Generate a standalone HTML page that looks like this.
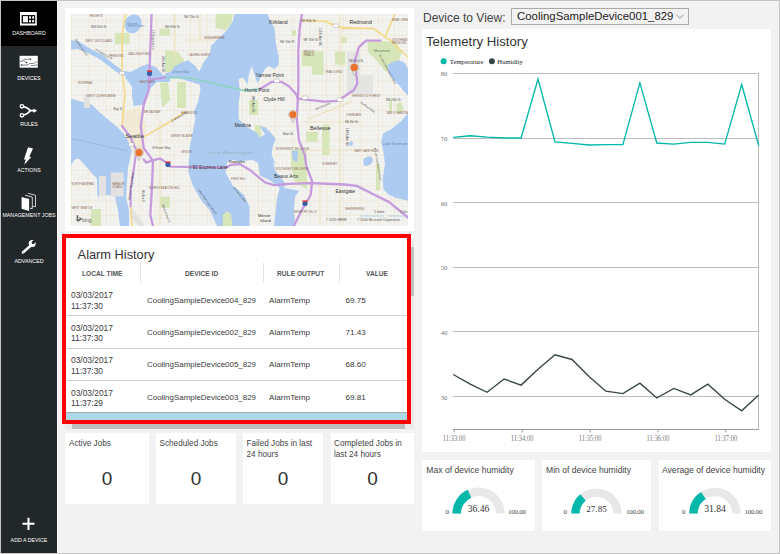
<!DOCTYPE html>
<html><head><meta charset="utf-8">
<style>
*{margin:0;padding:0;box-sizing:border-box}
html,body{width:780px;height:554px;overflow:hidden;background:#f2f2f2;font-family:"Liberation Sans",sans-serif;color:#333}
.a{position:absolute}
#frame{position:absolute;left:0;top:0;width:780px;height:554px;border:1px solid #c4c4c4;pointer-events:none;z-index:50}
#side{left:1px;top:1px;width:56px;height:552px;background:#22272a}
#dash{left:1px;top:1px;width:56px;height:45px;background:#000}
.lbl{color:#fff;font-size:5.3px;text-align:center;width:56px;left:1px;white-space:nowrap;line-height:6px}
.panel{background:#fff}
.t{white-space:nowrap}
.hd{font-size:8px;font-weight:bold;color:#555;line-height:8px;transform:scaleX(0.83);transform-origin:0 0}
.td{font-size:8.1px;color:#3a3a3a;line-height:10.4px}
.jt{font-size:8.2px;color:#444;line-height:11px}
.jz{top:468px;font-size:19px;color:#333;text-align:center;line-height:22px}
</style></head><body>
<div id="frame"></div>
<div class="a" id="side"></div>
<div class="a" id="dash"></div>
<div class="a" style="left:57px;top:1px;width:1px;height:552px;background:#fafafa"></div>

<svg class="a" style="left:0;top:0" width="58" height="554" viewBox="0 0 58 554">
<!-- dashboard -->
<rect x="20" y="12" width="16.8" height="13.5" fill="#fff"/>
<rect x="21.6" y="15.1" width="13.6" height="8.4" fill="#000"/>
<rect x="22.9" y="16.1" width="5" height="6.2" fill="#fff"/>
<rect x="29.1" y="16.3" width="1.9" height="2.4" fill="#fff"/>
<rect x="32.2" y="16.3" width="1.9" height="2.4" fill="#fff"/>
<rect x="29.1" y="19.9" width="1.9" height="2.4" fill="#fff"/>
<rect x="32.2" y="19.9" width="1.9" height="2.4" fill="#fff"/>
<!-- devices -->
<rect x="19.6" y="55.8" width="18.2" height="11.9" fill="#fff"/>
<path d="M20 61.2 H23 L24.2 59.2 H30.5 M23.5 60.2 L26 62.5 H27 M21.5 65 H28 L29.5 63.5 H34 L35.5 62 H37.5 M31 65.5 H34 L35.5 65 H37.5" fill="none" stroke="#777" stroke-width="0.9"/>
<circle cx="30.6" cy="59.2" r="0.8" fill="#333"/><circle cx="26.5" cy="62.5" r="0.8" fill="#333"/><circle cx="21.5" cy="65" r="0.8" fill="#333"/>
<!-- rules -->
<circle cx="21.9" cy="106.3" r="1.7" fill="none" stroke="#fff" stroke-width="1.3"/>
<circle cx="21.9" cy="115.3" r="1.7" fill="none" stroke="#fff" stroke-width="1.3"/>
<path d="M23.6 106.6 C27 107 29 109 30.5 110.6 M23.6 115 C27 114.6 29 112.4 30.5 110.6 L34 110.6" fill="none" stroke="#fff" stroke-width="1.6"/>
<path d="M33.4 108.6 L37.2 110.7 L33.4 112.8 Z" fill="#fff"/>
<!-- actions -->
<path d="M28.0 147.2 L33.0 148.5 L29.4 156.5 L31.1 157.2 L24.2 164.8 L25.8 159.5 L23.9 159.4 Z" fill="#fff"/>
<!-- management jobs -->
<path d="M28.1 193.4 L35.5 195.2 V206.8 L32.8 206.2" fill="none" stroke="#ddd" stroke-width="0.9"/>
<path d="M25.1 195.2 L32.3 197.1 V208.7 L29.6 208.1" fill="none" stroke="#e8e8e8" stroke-width="0.9"/>
<path d="M21.6 196.9 L29.1 199 V211 L21.6 208.7 Z" fill="#fff"/>
<!-- advanced -->
<path d="M22.9 252.5 L30.9 245.5" stroke="#fff" stroke-width="2.5" stroke-linecap="round"/>
<circle cx="32.2" cy="243.5" r="3.5" fill="#fff"/>
<circle cx="33" cy="242.7" r="1.4" fill="#22272a"/>
<path d="M32.0 241.7 L34.0 243.7 L37 240.7 L35 238.7 Z" fill="#22272a"/>
<circle cx="23.3" cy="252.2" r="0.45" fill="#22272a"/>
<!-- add -->
<path d="M28.5 517.7 V530 M22.5 523.8 H34.5" stroke="#fff" stroke-width="2"/>
</svg>
<!-- sidebar labels -->
<div class="a lbl m" style="top:30px">DASHBOARD</div>
<div class="a lbl m" style="top:75px">DEVICES</div>
<div class="a lbl m" style="top:121px">RULES</div>
<div class="a lbl m" style="top:167px">ACTIONS</div>
<div class="a lbl m" style="top:212px">MANAGEMENT JOBS</div>
<div class="a lbl m" style="top:258px">ADVANCED</div>
<div class="a lbl m" style="top:537px">ADD A DEVICE</div>

<!-- map panel -->
<div class="a panel" style="left:65px;top:8px;width:349px;height:223px"></div>
<div class="a" id="map" style="left:71px;top:14px;width:337px;height:212px;background:#f2efe9;overflow:hidden"><svg width="337" height="212" viewBox="71 14 337 212" style="display:block">
<defs>
<pattern id="grid" x="0" y="0" width="4" height="4" patternUnits="userSpaceOnUse">
<path d="M0 0.5 H4 M0.5 0 V4" stroke="#f7f7f4" stroke-width="0.5" fill="none"/>
</pattern>
<pattern id="grid2" x="3" y="5" width="17" height="15" patternUnits="userSpaceOnUse">
<path d="M0 0.5 H17 M0.5 0 V15" stroke="#efe6cd" stroke-width="0.5" fill="none"/>
</pattern>
</defs>
<rect x="71" y="14" width="337" height="212" fill="#f0efeb"/>
<rect x="71" y="14" width="337" height="212" fill="url(#grid)"/>
<rect x="71" y="14" width="337" height="212" fill="url(#grid2)"/>
<!-- parks -->
<g fill="#d6e6b8">
<path d="M114.8 32.8 H129.2 V44.3 H114.8 Z"/>
<path d="M159.6 28.5 H170 V35.7 H159.6 Z"/>
<path d="M165 50 L178 52 L184 60 L182 72 L165 72 Z"/>
<path d="M215.6 14 H233 L231 24 L226 30 L215.6 28 Z"/>
<path d="M160 83 L168 82 L170 100 L162 108 Z"/>
<path d="M301.9 51.6 H323.6 V74.7 H312 V66 H301.9 Z"/>
<path d="M335 51.6 H345.3 V64.6 H335 Z"/>
<path d="M291.8 30 H296 V35.7 H291.8 Z"/>
<path d="M341 37 H346.7 V43 H341 Z"/>
<path d="M396 104 L401 102 L404 110 L398 114 Z"/>
<path d="M389 100 H392 V112 H389 Z"/>
<path d="M367.5 41.4 L395 41 L402 52 L398 62 L390 65 L386 72 L378 62 L368 52 Z"/>
<path d="M306 131.9 H317.8 V142 H306 Z"/>
<path d="M322 124.7 H329.4 V155 H322 Z"/>
<path d="M291 150 H306.5 L307 189.4 L295 182 L291 165 Z"/>
<path d="M91 209 H101 V226 H91 Z"/>
<path d="M160 196.5 H170 V207.7 H160 Z"/>

<path d="M233 126 H240 V140 H233 Z"/>
<path d="M255 125 H261 V140 H255 Z"/>
<path d="M376 164 H380 V190 H376 Z"/>
<path d="M249 100 H258 V115 H249 Z"/>
<path d="M177 82 H186 V108 H177 Z"/>
</g>
<!-- water -->
<g fill="#adcaf0">
<!-- Green Lake -->
<ellipse cx="133" cy="23.8" rx="8.3" ry="9.6" transform="rotate(25 133 23.8)"/>
<!-- ship canal + salmon bay -->
<path d="M71 40 L78.7 41.5 L91.7 49.5 L103.2 55 L114.8 65 L123.5 71 L131 72 L131 76 L122 75.5 L113 69.5 L101 60 L90 54 L78 49 L71 49.4 Z"/>
<!-- Lake Union -->
<path d="M130.7 71.8 L142.3 66 L148 63.9 L156.7 67.5 L162.5 74.7 L170 77.6 L170 81.9 L156.7 81.9 L151 87.7 L146 96 L143.7 104.5 L133.6 105.9 L132 96 L132 86.3 L125 77.6 Z"/>
<!-- Puget Sound / Elliott Bay -->
<path d="M71 98.7 L91.7 104.5 L98.9 111.7 L107.6 118.9 L116.2 126.1 L123.5 133.4 L127.8 140.6 L130.7 147.8 L133 153.6 L132 150 L128 168 L126 197 L129 210 L129 226 L120 226 L118 210 L115 197 L110 195 L97.5 196.5 L96.8 178.2 L92.5 174 L84 164 L78.5 158.5 L74.2 159.9 L71 165.5 Z"/>
<!-- Lake Washington -->
<path d="M234.4 14 L267.2 14 L271.6 22.7 L274.5 28.5 L275.9 42.9 L278.8 57.4 L278.8 64.6 L274.5 68.9 L268.7 66 L265 68.9 L261.8 74.7 L257.5 83.4 L254.6 74.7 L251.7 66 L248.8 74.7 L247.4 84.8 L243 77.6 L238.7 79 L240.1 94 L238.7 101.6 L238.7 118.9 L245.9 126.1 L257.5 133.4 L258.9 137.7 L265 134.8 L260 126.1 L265.8 127.6 L271.6 133.4 L275.9 139.1 L273 144.9 L271.6 155 L275.9 165.1 L272.7 161.3 L274.1 150 L272.7 161.3 L275.5 171.1 L282.5 179.6 L285.4 183.8 L284 188 L292.4 189.4 L299.4 190.8 L295.2 196.5 L293.8 209.2 L295.2 226 L274.1 226 L275.5 213.4 L276.9 199.3 L279.7 188 L271.3 181 L260 175.4 L258 162.7 L252.3 159.9 L239.6 161.3 L231.2 159.9 L227 162.7 L225.6 172.5 L232.6 185.2 L243.9 195 L249.5 206.3 L249.5 226 L217.1 226 L210 210.6 L201.6 200.7 L193.2 186.6 L190.4 178.2 L188.2 171.1 L188.8 162.3 L189.6 147.8 L192.5 133.4 L195.3 118.9 L193.9 111.7 L198.2 101.6 L200.4 90 L199.7 84.8 L191 81.9 L176.6 77.6 L165 77.6 L165 73.2 L170.8 71.8 L175.1 66 L180.9 63.1 L188.1 60.2 L195.3 66 L199 71.8 L199.7 70.4 L204 61.7 L209.8 54.5 L211.2 45.8 L218.5 38.6 L227.1 29.9 L232.9 21.2 Z"/>
<!-- Meydenbauer left region water near Bellevue/Mercer already included; Lake Sammamish -->
<path d="M387.8 64.5 L393.5 61.7 L399.3 60.2 L405 63.1 L408 68.9 L408 95.4 L404 91.6 L399 85.3 L392.8 79 L389 72.6 Z"/>
<path d="M408 113 L401.6 120.7 L391.5 129 L383.4 133.3 L381.3 142 L383.4 152.1 L385 164.1 L382.8 178.2 L383.5 189.4 L389.2 195 L396.2 197.9 L408 200.7 Z"/>
<path d="M363.2 160 Q366 156 371 156.4 Q374 159 372 163 Q368 167 364 165.5 Z"/>
<path d="M292 151 L298 150.7 L297 162.3 L293 160 Z"/>
<ellipse cx="351.3" cy="143.4" rx="1.8" ry="2.2"/>
</g>
<path d="M223 226 L222.7 215 L227 211.5 L231 214 L232.6 226 Z" fill="#d6e6b8"/>
<!-- industrial / harbor island -->
<g fill="#e2e2e2">
<path d="M110.8 172.5 H123.5 V196.5 H110.8 Z"/>
<path d="M99 176 H106 V196 H99 Z"/>
<path d="M84 94 H90 V108 H84 Z"/>
<path d="M130 205 L145 226 H138 L130 215 Z"/>
<path d="M347 52 H360 V75 H373 V94 H347 Z" fill="#e4e4e2"/>
</g>
<path d="M120 112 L140 108 L146 125 L144 150 L133 152 L126 135 Z" fill="#f2e3b8" opacity="0.45"/>
<path d="M71.5 138.5 L127 151" stroke="#86a9d6" stroke-width="0.5" fill="none"/>
<!-- yellow roads -->
<g fill="none" stroke="#f4d98a" stroke-width="1.6" stroke-linecap="round">
<path d="M125.6 14 L122 35.7 L122 71.8 L125 94 L122 126"/><path d="M130.6 206.3 L132 226"/>
<path d="M300.5 20.5 L325 21.2 L339.5 27 L360 28.5"/>
<path d="M330 24.1 L343 28.4 L373.3 28.4 L384.9 37.1 L395 14"/>
<path d="M384.9 37.1 L390.6 40 L408 57.3"/>
<path d="M142.3 137.7 L170 121.8 L185 112"/>

<path stroke="#ecdfb8" d="M307.7 118.9 L340.9 105.9 L352 101" stroke-width="1.1"/>
<path stroke="#ecdfb8" d="M303 121.8 L360 121.8" stroke-width="0.8"/>
<path stroke="#ecdfb8" d="M175 14 L175 60" stroke-width="1"/>
<path stroke="#ecdfb8" d="M200 14 L200 40" stroke-width="1"/>
<path stroke="#ecdfb8" d="M160 120 L160 226" stroke-width="1"/>
<path stroke="#ecdfb8" d="M340 14 L340 226" stroke-width="0.9"/>
<path stroke="#ecdfb8" d="M320 183 L320 226" stroke-width="0.9"/>

<path stroke="#ecdfb8" d="M186 40 L215 40" stroke-width="0.9"/>
<path stroke="#ecdfb8" d="M300 150 L380 150" stroke-width="0.9"/>

</g>
<!-- 520 bridge teal -->
<path d="M165 77.6 L186.7 77.6 L201.1 80.5 L244.5 90.6 L260 89" fill="none" stroke="#8fd4c0" stroke-width="1.6"/>
<!-- purple highways -->
<g fill="none" stroke="#c59bde" stroke-width="2.3" stroke-linejoin="round" stroke-linecap="round">
<!-- I-5 -->
<path d="M151.6 14 L149.5 71.8 L148.8 90 L143.7 104.5 L140.8 126.1 L143.7 147.8 L150.9 157.9 L153 161.3 L151.7 192.3 L150.3 214.8 L153 226"/>
<!-- Viaduct -->
<path d="M122 126 L130.7 137.7 L136.5 150.7 L133.6 170 L130.6 189.4 L130.6 206.3" stroke-width="2.2"/>
<!-- I-90 -->
<path d="M143.7 159.4 L146 162.7 L154.5 159.9 L160 158.5 L168.6 164 L170 166.6 L225.6 167.6 L231.2 164.8 L239.6 164 L249.5 169.7 L265 182.4 L274.1 185.2 L288.2 183.8 L312.1 183.1 L344.5 184.5 L356.8 185.9 L372.3 193.7 L389.2 202.1 L408 217.6"/>
<!-- SR520 west stub -->
<path d="M148.8 80 L165 77.6" stroke-width="2"/>
<!-- SR520 east -->
<path d="M260 89.1 L271.6 81.9 L281.7 81.9 L288.9 86.3 L296.1 94 L297.6 98.7 L310.6 100.1 L325 101.6 L338 100.8 L345.3 95.8 L353.9 90 L357.4 83.3 L356 71.8 L354.5 61.7 L358.9 47.2 L366.1 40.7 L380.5 40.7"/>
<!-- I-405 -->
<path d="M301.9 14 L299.7 28.5 L298.3 50.1 L298.3 90 L296.8 118.9 L299 140.6 L304.8 155 L306.5 166.9 L312.1 181 L310.7 195 L302.3 209.2 L293.8 226"/>
</g>
<!-- shields -->
<g>
<circle cx="149.5" cy="73.5" r="2.6" fill="#3d5fa8"/><rect x="147" y="70.4" width="5" height="1.5" fill="#d33"/>
<circle cx="168" cy="164.5" r="2.6" fill="#3d5fa8"/><rect x="165.5" y="161.4" width="5" height="1.5" fill="#d33"/>
<circle cx="305" cy="203.5" r="2.6" fill="#3d5fa8"/><rect x="302.5" y="200.4" width="5" height="1.5" fill="#d33"/>
<rect x="128.5" y="142.7" width="5.5" height="3.5" rx="1.5" fill="#fff" stroke="#999" stroke-width="0.4"/>
<rect x="119.2" y="71.3" width="5.5" height="3.5" rx="1.5" fill="#fff" stroke="#999" stroke-width="0.4"/>
<rect x="274" y="79" width="5.5" height="3.5" rx="1" fill="#fff" stroke="#999" stroke-width="0.4"/>
<rect x="302" y="96" width="5.5" height="3.5" rx="1" fill="#fff" stroke="#999" stroke-width="0.4"/>
<rect x="337" y="98" width="5.5" height="3.5" rx="1" fill="#fff" stroke="#999" stroke-width="0.4"/>
<rect x="333" y="24" width="5.5" height="3.5" rx="1" fill="#fff" stroke="#999" stroke-width="0.4"/>
</g>
<!-- labels -->
<g font-family="Liberation Sans" fill="#444">
<text x="127.8" y="26.5" font-size="3.2" fill="#6a8ab0">Green Lake</text>
<text x="139.4" y="82.6" font-size="3" fill="#8a6a5a">EASTLAKE</text>
<text x="78" y="84" font-size="3" fill="#8a6a5a">INTERBAY</text>
<text x="165" y="27.7" font-size="3" fill="#555">NE 65th St</text>
<text x="184" y="17.5" font-size="3" fill="#555">NE 75th St</text>
<text x="301" y="22" font-size="3" fill="#555">NE 85th St</text>
<text x="280" y="42.9" font-size="3" fill="#555">NE 70th Pl</text>
<text x="303.4" y="40.7" font-size="3" fill="#555">NE 70th St</text>
<text x="303.4" y="52.5" font-size="3" fill="#8a6a5a">BRIDLE</text>
<text x="303.4" y="55.8" font-size="3" fill="#8a6a5a">TRAILS</text>
<text x="325" y="72.5" font-size="3" fill="#8a6a5a">TRAILS END</text>
<text x="283" y="134.8" font-size="3" fill="#555">Main St</text>
<text x="276" y="150" font-size="2.8" fill="#8a6a5a">NORTHWEST BELLEVUE</text>
<text x="345" y="122.5" font-size="3" fill="#555">NE 8th St</text>
<text x="386" y="100.8" font-size="3" fill="#555">NE 24th St</text>
<text x="351.7" y="97.2" font-size="2.8" fill="#8a6a5a">SHERWOOD FOREST</text>
<text x="346" y="116" font-size="2.8" fill="#8a6a5a">OVERLAKE</text>
<text x="354.5" y="152" font-size="2.8" fill="#8a6a5a">EAST LAKE HILLS</text>
<text x="386.3" y="113.8" font-size="2.8" fill="#8a6a5a">TAM O SHANTER</text>
<text x="392" y="21.2" font-size="2.8" fill="#8a6a5a">BEAR CREEK</text>
<text x="392" y="41" font-size="2.8" fill="#8a6a5a">SOUTHEAST</text>
<text x="392" y="44.3" font-size="2.8" fill="#8a6a5a">REDMOND</text>
<text x="348.8" y="62.4" font-size="3" fill="#555">NE 51st St</text>
<text x="181" y="113.8" font-size="3" fill="#8a6a5a">HARRISON</text>
<text x="181" y="152.9" font-size="3" fill="#8a6a5a">LESCHI</text>
<text x="113.4" y="110.2" font-size="3" fill="#555">Bay St</text>
<text x="152.4" y="149.2" font-size="3" fill="#555">E Fester Way</text>
<text x="71.4" y="184.5" font-size="2.8" fill="#8a6a5a">NORTH ADMIRAL</text>
<text x="112.3" y="184.5" font-size="2.8" fill="#8a6a5a">HARBOR</text>
<text x="112.3" y="187.5" font-size="2.8" fill="#8a6a5a">ISLAND</text>
<text x="71.4" y="209" font-size="2.8" fill="#8a6a5a">WEST SEATTLE</text>
<text x="231.2" y="180" font-size="2.8" fill="#8a6a5a">FIRST HILL</text>
<text x="275.5" y="170.4" font-size="2.8" fill="#8a6a5a">SOUTHWEST BELLEVUE</text>
<text x="322" y="165" font-size="2.8" fill="#8a6a5a">SOMERSET</text>
<text x="293.8" y="212.7" font-size="2.8" fill="#8a6a5a">NEWPORT HILLS</text>
<text x="162" y="56" font-size="3" fill="#555" transform="rotate(90 162 56)">35th Ave NE</text>
<text x="152" y="30" font-size="3" fill="#555" transform="rotate(90 152 30)">I-5 Express Ln</text>
<text x="319" y="28" font-size="3" fill="#555" transform="rotate(90 319 28)">116th Ave NE</text>
<text x="346" y="128" font-size="3" fill="#555" transform="rotate(90 346 128)">148th Ave NE</text>
<text x="251.5" y="96" font-size="3" fill="#555" transform="rotate(90 251.5 96)">84th Ave NE</text>
<text x="130.2" y="200" font-size="3" fill="#444" transform="rotate(-82 130.2 200)">Alaskan Way Viaduct</text>
<text x="142" y="190" font-size="2.8" fill="#555" transform="rotate(90 142 190)">4th Ave S</text>
<text x="162" y="205" font-size="3" fill="#555" transform="rotate(70 162 205)">Beacon Ave S</text>
<text x="198" y="190" font-size="2.8" fill="#555" transform="rotate(55 198 190)">Lake Washington Blvd S</text>
<text x="233" y="188" font-size="2.8" fill="#555" transform="rotate(50 233 188)">W Mercer Way</text>
<text x="379" y="55" font-size="2.8" fill="#555" transform="rotate(62 379 55)">W Lake Sammamish Pkwy</text>
<text x="374" y="148" font-size="2.8" fill="#555" transform="rotate(80 374 148)">W Lake Sammamish Pkwy</text>
<text x="172" y="122" font-size="3" fill="#555" transform="rotate(-30 172 122)">E Madison St</text>
<text x="75" y="40" font-size="2.8" fill="#555" transform="rotate(55 75 40)">Ballard Ave NW</text>
<text x="95" y="50" font-size="2.8" fill="#555" transform="rotate(30 95 50)">W Nickerson St</text>
<text x="316" y="110" font-size="3" fill="#555" transform="rotate(-22 316 110)">Bel-Red Rd</text>
<text x="360" y="103" font-size="3" fill="#555" transform="rotate(35 360 103)">Northup Way</text>
<text x="89.5" y="17" font-size="3" fill="#8a6a5a">HEIGHTS</text>
<text x="125.6" y="137.7" font-size="5.9" fill="#333">Seattle</text>
<text x="269" y="24.2" font-size="5.2" fill="#333">Kirkland</text>
<text x="349.4" y="24.2" font-size="5.2" fill="#333">Redmond</text>
<text x="309.9" y="129.7" font-size="5.4" fill="#333">Bellevue</text>
<text x="263.4" y="100.6" font-size="5" fill="#333">Clyde Hill</text>
<text x="255.6" y="77" font-size="5" fill="#333">Yarrow Point</text>
<text x="244.6" y="91.8" font-size="4.8" fill="#333">Hunts Point</text>
<text x="234.4" y="126.8" font-size="5" fill="#333">Medina</text>
<text x="274" y="177.6" font-size="5" fill="#333">Beaux Arts</text>
<text x="335.4" y="193.2" font-size="5" fill="#333">Eastgate</text>
<text x="258" y="217" font-size="4" fill="#333">Mercer</text>
<text x="260" y="222" font-size="4" fill="#333">Island</text>
<text x="229" y="163" font-size="4" fill="#333">Roanoke</text>
<text x="208" y="154" font-size="4" fill="#8aa" letter-spacing="1">Lake Washington</text>
<text x="172" y="73" font-size="3.8" fill="#6a8ab0" font-style="italic">Union Bay</text>
<text x="127" y="25" font-size="3.8" fill="#6a8ab0" font-style="italic">Green</text>
<text x="189.6" y="168.6" font-size="4.7" fill="#333">I-90 Express Lane</text>
<text x="374" y="52" font-size="3.6" fill="#5a8a5a">Marymoor</text>
<text x="383" y="145" font-size="3.6" fill="#6a8ab0" font-style="italic">Lake Sammam</text>
<text x="85.2" y="42.2" font-size="3" fill="#8a6a5a">WEST WOODLAND</text>
<text x="128" y="54.5" font-size="3" fill="#8a6a5a">WALLINGFORD</text>
<text x="109" y="56.8" font-size="3" fill="#8a6a5a">FREMONT</text>
<text x="91" y="28" font-size="3" fill="#555">NW 65th St</text>
<text x="204" y="38.6" font-size="3" fill="#8a6a5a">WINDERMERE</text>
<text x="188.8" y="55.9" font-size="3" fill="#8a6a5a">LAURELHURST</text>
<text x="86.6" y="96.5" font-size="3" fill="#8a6a5a">WEST QUEEN ANNE</text>
<text x="170.8" y="137" font-size="3" fill="#8a6a5a">DENNY BLAINE</text>
<text x="149" y="189" font-size="3" fill="#8a6a5a">NORTH BEACON HILL</text>

<text x="143.7" y="113" font-size="3" fill="#8a6a5a">BROADWAY</text>
<text x="345" y="210" font-size="3" fill="#8a6a5a">WHISPERING</text>
</g>
<!-- pins -->
<g>
<path d="M136.8 155.6 L139 160.6 L141.2 155.6 Z" fill="#fff" stroke="#888" stroke-width="0.5"/>
<circle cx="139" cy="152.6" r="4.4" fill="#fff" stroke="#999" stroke-width="0.5"/>
<circle cx="139" cy="152.6" r="3.7" fill="#e9732c"/>
<path d="M290.8 117.6 L293 122.6 L295.2 117.6 Z" fill="#fff" stroke="#888" stroke-width="0.5"/>
<circle cx="293" cy="114.6" r="4.4" fill="#fff" stroke="#999" stroke-width="0.5"/>
<circle cx="293" cy="114.6" r="3.7" fill="#e9732c"/>
<path d="M352.1 70.5 L354.3 75.5 L356.5 70.5 Z" fill="#fff" stroke="#888" stroke-width="0.5"/>
<circle cx="354.3" cy="67.5" r="4.4" fill="#fff" stroke="#999" stroke-width="0.5"/>
<circle cx="354.3" cy="67.5" r="3.7" fill="#e9732c"/>
</g>
<!-- bing + copyright -->
<g font-family="Liberation Sans">
<path d="M76.6 215 L78.2 215.5 V219.6 L80.2 218.5 L79.2 218 L78.9 216.9 L81.7 218.2 V219.6 L78.2 221.8 L76.6 220.9 Z" fill="#666"/>
<text x="82" y="221.5" font-size="5" fill="#666">bing</text>
<text x="357" y="221" font-size="3.3" fill="#555">© 2016 Microsoft Corporation</text>
<text x="326" y="221" font-size="3.3" fill="#555">© 2015 HERE</text>
<text x="374" y="213" font-size="3.3" fill="#555">1 miles</text>
<text x="400" y="213" font-size="3.3" fill="#555">1 km</text>
<path d="M360 216 H384 M388 216 H405" stroke="#9cc7ee" stroke-width="0.7"/>
</g>
</svg>
</div>

<!-- alarm panel -->
<div class="a panel" style="left:65px;top:236px;width:349px;height:188px"></div>
<div class="a" style="left:62px;top:234px;width:349px;height:190px;border:4px solid #ff0000"></div>


<!-- alarm content -->
<div class="a t m" style="left:77.6px;top:247px;font-size:12.8px;color:#333;line-height:15px">Alarm History</div>
<div class="a t m hd" style="left:82px;top:270px">LOCAL TIME</div>
<div class="a t m hd" style="left:185px;top:270px">DEVICE ID</div>
<div class="a t m hd" style="left:277px;top:270px">RULE OUTPUT</div>
<div class="a t m hd" style="left:366px;top:270px">VALUE</div>
<div class="a" style="left:140px;top:263px;width:1px;height:20px;background:#e3e3e3"></div>
<div class="a" style="left:263px;top:263px;width:1px;height:20px;background:#e3e3e3"></div>
<div class="a" style="left:339px;top:263px;width:1px;height:20px;background:#e3e3e3"></div>
<div class="a t m td" style="left:71px;top:290.3px;font-size:8.4px">03/03/2017<br>11:37:30</div>
<div class="a t m td" style="left:147px;top:295.5px;font-size:7.95px">CoolingSampleDevice004_829</div>
<div class="a t m td" style="left:269px;top:295.5px">AlarmTemp</div>
<div class="a t m td" style="left:345.5px;top:295.5px">69.75</div>
<div class="a t m td" style="left:71px;top:322.7px;font-size:8.4px">03/03/2017<br>11:37:30</div>
<div class="a t m td" style="left:147px;top:327.9px;font-size:7.95px">CoolingSampleDevice002_829</div>
<div class="a t m td" style="left:269px;top:327.9px">AlarmTemp</div>
<div class="a t m td" style="left:345.5px;top:327.9px">71.43</div>
<div class="a t m td" style="left:71px;top:355.1px;font-size:8.4px">03/03/2017<br>11:37:30</div>
<div class="a t m td" style="left:147px;top:360.3px;font-size:7.95px">CoolingSampleDevice005_829</div>
<div class="a t m td" style="left:269px;top:360.3px">AlarmTemp</div>
<div class="a t m td" style="left:345.5px;top:360.3px">68.60</div>
<div class="a t m td" style="left:71px;top:387.5px;font-size:8.4px">03/03/2017<br>11:37:29</div>
<div class="a t m td" style="left:147px;top:392.7px;font-size:7.95px">CoolingSampleDevice003_829</div>
<div class="a t m td" style="left:269px;top:392.7px">AlarmTemp</div>
<div class="a t m td" style="left:345.5px;top:392.7px">69.81</div>
<div class="a" style="left:66px;top:315px;width:341px;height:1px;background:#cfcfcf"></div>
<div class="a" style="left:66px;top:347.6px;width:341px;height:1px;background:#cfcfcf"></div>
<div class="a" style="left:66px;top:380.4px;width:341px;height:1px;background:#cfcfcf"></div>
<div class="a" style="left:66px;top:412px;width:341px;height:8px;background:#add8e6;border-top:1px solid #a2a8aa"></div>
<div class="a" style="left:411px;top:238px;width:3px;height:191px;background:#e9e9e9"></div>
<div class="a" style="left:411px;top:247px;width:3px;height:49px;background:#c1c1c1"></div>
<div class="a" style="left:65px;top:424px;width:349px;height:5px;background:#e9e9e9"></div>
<div class="a" style="left:72px;top:424px;width:333px;height:5px;background:#bdbdbd"></div>
<!-- jobs -->
<div class="a panel" style="left:65px;top:433px;width:84px;height:71px"></div>
<div class="a panel" style="left:156px;top:433px;width:80px;height:71px"></div>
<div class="a panel" style="left:243px;top:433px;width:80px;height:71px"></div>
<div class="a panel" style="left:331px;top:433px;width:83px;height:71px"></div>


<div class="a t m jt" style="left:69px;top:438px">Active Jobs</div>
<div class="a t m jt" style="left:159.5px;top:438px">Scheduled Jobs</div>
<div class="a t m jt" style="left:246.5px;top:438px">Failed Jobs in last<br>24 hours</div>
<div class="a t m jt" style="left:334px;top:438px">Completed Jobs in<br>last 24 hours</div>
<div class="a jz" style="left:65px;width:84px">0</div>
<div class="a jz" style="left:156px;width:80px">0</div>
<div class="a jz" style="left:243px;width:80px">0</div>
<div class="a jz" style="left:331px;width:83px">0</div>
<!-- right column -->
<div class="a t m" style="left:423px;top:11px;font-size:12px;color:#444">Device to View:</div>
<div class="a" style="left:511px;top:8px;width:178px;height:17px;border:1px solid #aaa;background:#f2f2f2"></div>
<div class="a t m" style="left:517px;top:10px;font-size:11.4px;color:#222">CoolingSampleDevice001_829</div>
<svg class="a" style="left:670px;top:8px" width="20" height="17" viewBox="670 8 20 17"><path d="M676.3 14.8 L679.9 18.3 L683.5 14.8" fill="none" stroke="#777" stroke-width="0.8"/></svg>

<div class="a panel" style="left:422px;top:29px;width:349px;height:423px"></div>
<div class="a t m" style="left:426px;top:34px;font-size:13.2px;color:#333">Telemetry History</div>

<div class="a panel" style="left:422px;top:460px;width:113px;height:71px"></div>
<div class="a panel" style="left:542px;top:460px;width:109px;height:71px"></div>
<div class="a panel" style="left:659px;top:460px;width:112px;height:71px"></div>

<svg class="a" style="left:0;top:0" width="780" height="554" viewBox="0 0 780 554">
<line x1="453" y1="73.5" x2="759" y2="73.5" stroke="#bcbcbc" stroke-width="1"/>
<text x="440.7" y="76.1" font-family="Liberation Serif" font-size="7.1" fill="#777" textLength="6.6" lengthAdjust="spacingAndGlyphs">80</text>
<line x1="453" y1="138.5" x2="759" y2="138.5" stroke="#bcbcbc" stroke-width="1"/>
<text x="440.7" y="140.8" font-family="Liberation Serif" font-size="7.1" fill="#777" textLength="6.6" lengthAdjust="spacingAndGlyphs">70</text>
<line x1="453" y1="202.5" x2="759" y2="202.5" stroke="#bcbcbc" stroke-width="1"/>
<text x="440.7" y="205.5" font-family="Liberation Serif" font-size="7.1" fill="#777" textLength="6.6" lengthAdjust="spacingAndGlyphs">60</text>
<line x1="453" y1="267.5" x2="759" y2="267.5" stroke="#bcbcbc" stroke-width="1"/>
<text x="440.7" y="270.2" font-family="Liberation Serif" font-size="7.1" fill="#777" textLength="6.6" lengthAdjust="spacingAndGlyphs">50</text>
<line x1="453" y1="331.5" x2="759" y2="331.5" stroke="#bcbcbc" stroke-width="1"/>
<text x="440.7" y="334.9" font-family="Liberation Serif" font-size="7.1" fill="#777" textLength="6.6" lengthAdjust="spacingAndGlyphs">40</text>
<line x1="453" y1="396.5" x2="759" y2="396.5" stroke="#bcbcbc" stroke-width="1"/>
<text x="440.7" y="399.6" font-family="Liberation Serif" font-size="7.1" fill="#777" textLength="6.6" lengthAdjust="spacingAndGlyphs">30</text>
<line x1="758.5" y1="73" x2="758.5" y2="429.5" stroke="#bcbcbc" stroke-width="1"/>
<line x1="453" y1="429.5" x2="759" y2="429.5" stroke="#9a9a9a" stroke-width="1"/>
<line x1="454.2" y1="429.5" x2="454.2" y2="432.5" stroke="#9a9a9a" stroke-width="1"/>
<text x="442.8" y="441.2" font-family="Liberation Serif" font-size="7.2" fill="#777" textLength="22.8" lengthAdjust="spacingAndGlyphs">11:33:00</text>
<line x1="522.2" y1="429.5" x2="522.2" y2="432.5" stroke="#9a9a9a" stroke-width="1"/>
<text x="510.8" y="441.2" font-family="Liberation Serif" font-size="7.2" fill="#777" textLength="22.8" lengthAdjust="spacingAndGlyphs">11:34:00</text>
<line x1="590.2" y1="429.5" x2="590.2" y2="432.5" stroke="#9a9a9a" stroke-width="1"/>
<text x="578.8" y="441.2" font-family="Liberation Serif" font-size="7.2" fill="#777" textLength="22.8" lengthAdjust="spacingAndGlyphs">11:35:00</text>
<line x1="658" y1="429.5" x2="658" y2="432.5" stroke="#9a9a9a" stroke-width="1"/>
<text x="646.6" y="441.2" font-family="Liberation Serif" font-size="7.2" fill="#777" textLength="22.8" lengthAdjust="spacingAndGlyphs">11:36:00</text>
<line x1="725.8" y1="429.5" x2="725.8" y2="432.5" stroke="#9a9a9a" stroke-width="1"/>
<text x="714.4" y="441.2" font-family="Liberation Serif" font-size="7.2" fill="#777" textLength="22.8" lengthAdjust="spacingAndGlyphs">11:37:00</text>
<polyline fill="none" stroke="#01b8aa" stroke-width="1.35" stroke-linejoin="miter" points="453.2,137.4 470.2,135.8 487.1,137.2 504.1,138 521.1,138 538.0,79 555.0,141.9 572.0,143.4 589.0,145 605.9,144.6 622.9,144.6 639.9,82.9 656.8,143 673.8,144.1 690.8,142.4 707.8,142.4 724.7,144.1 741.7,84.6 758.7,145.6"/>
<polyline fill="none" stroke="#374649" stroke-width="1.4" points="453.2,374.5 470.2,384.1 487.1,392.3 504.1,379 521.1,385.1 538.0,369.3 555.0,354.8 572.0,359.5 589.0,376.5 605.9,391.2 622.9,393.6 639.9,383.2 656.8,398 673.8,388.4 690.8,394.9 707.8,384.2 724.7,399.3 741.7,410.8 758.7,395.1"/>
<circle cx="443.6" cy="61.2" r="3" fill="#01b8aa"/>
<text x="449.8" y="63.8" font-family="Liberation Serif" font-size="6.7" fill="#222">Temperature</text>
<circle cx="491.9" cy="61.2" r="3" fill="#374649"/>
<text x="497.3" y="63.8" font-family="Liberation Serif" font-size="6.7" fill="#222">Humidity</text>
<path d="M456.7,513.6 A21.8,21.8 0 0 1 500.3,513.6" fill="none" stroke="#e8e8e8" stroke-width="8.6"/>
<path d="M456.7,513.6 A21.8,21.8 0 0 1 469.50,493.74" fill="none" stroke="#01b8aa" stroke-width="8.6"/>
<path d="M575.5,513.6 A21.0,21.0 0 0 1 617.5,513.6" fill="none" stroke="#e8e8e8" stroke-width="8.3"/>
<path d="M575.5,513.6 A21.0,21.0 0 0 1 583.04,497.48" fill="none" stroke="#01b8aa" stroke-width="8.3"/>
<path d="M693.5,513.6 A21.5,21.5 0 0 1 736.5,513.6" fill="none" stroke="#e8e8e8" stroke-width="8.5"/>
<path d="M693.5,513.6 A21.5,21.5 0 0 1 703.39,495.51" fill="none" stroke="#01b8aa" stroke-width="8.5"/>
<text x="478.5" y="512" font-family="Liberation Serif" font-size="9.6" fill="#333" text-anchor="middle">36.46</text>
<text x="449.0" y="513.6" font-family="Liberation Serif" font-size="7" fill="#444" text-anchor="end">0</text>
<text x="508.0" y="513.6" font-family="Liberation Serif" font-size="6.9" fill="#444" textLength="18">100.00</text>
<text x="426.3" y="472.6" font-family="Liberation Sans" font-size="8.6" fill="#444">Max of device humidity</text>
<text x="596.5" y="512" font-family="Liberation Serif" font-size="9.1" fill="#333" text-anchor="middle">27.85</text>
<text x="567.0" y="513.6" font-family="Liberation Serif" font-size="7" fill="#444" text-anchor="end">0</text>
<text x="626.0" y="513.6" font-family="Liberation Serif" font-size="6.9" fill="#444" textLength="18">100.00</text>
<text x="546" y="472.6" font-family="Liberation Sans" font-size="8.6" fill="#444">Min of device humidity</text>
<text x="715" y="512" font-family="Liberation Serif" font-size="9.6" fill="#333" text-anchor="middle">31.84</text>
<text x="685.5" y="513.6" font-family="Liberation Serif" font-size="7" fill="#444" text-anchor="end">0</text>
<text x="744.5" y="513.6" font-family="Liberation Serif" font-size="6.9" fill="#444" textLength="18">100.00</text>
<text x="662" y="472.6" font-family="Liberation Sans" font-size="8.6" fill="#444">Average of device humidity</text>
</svg>
</body></html>
